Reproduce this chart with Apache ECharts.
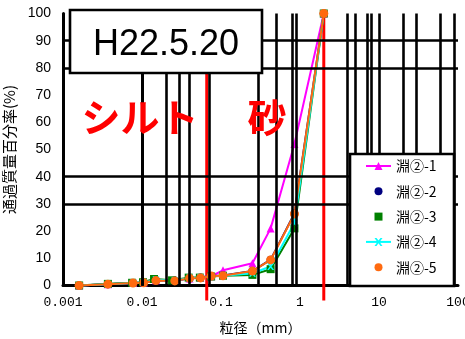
<!DOCTYPE html>
<html><head><meta charset="utf-8">
<script src="https://cdn.jsdelivr.net/npm/echarts@6/dist/echarts.min.js"></script>
<style>html,body{margin:0;padding:0;background:#fff}#c{width:465px;height:339px}</style>
</head><body><div id="c"></div>
<script>
// ---- data ----
const seriesNames = ['淵②-1', '淵②-2', '淵②-3', '淵②-4', '淵②-5'];
const sizes  = [0.0016, 0.0037, 0.0077, 0.0105, 0.015, 0.026, 0.040, 0.055, 0.075, 0.106, 0.25, 0.425, 0.85, 2];
const sizes3 = [0.0016, 0.0037, 0.0075, 0.0103, 0.0142, 0.024, 0.039, 0.054, 0.075, 0.106, 0.25, 0.425, 0.85, 2];
const pass1 = [0, 0.5, 0.9, 1.1, 1.9, 2.0, 2.6, 2.9, 3.4, 5.6, 8.2, 21, 52, 100];
const pass2 = [0, 0.5, 0.9, 1.0, 1.8, 1.8, 2.6, 2.9, 3.5, 3.7, 5.3, 9.5, 26.5, 100];
const pass3 = [0, 0.6, 1.0, 1.2, 2.4, 1.9, 2.9, 2.9, 3.3, 3.6, 3.9, 6.0, 21, 100];
const pass4 = [0, 0.5, 0.9, 1.1, 2.1, 1.8, 2.8, 2.9, 3.4, 3.6, 4.5, 7.0, 23, 100];
const pass5 = [0, 0.5, 0.9, 1.0, 1.8, 1.7, 2.7, 2.8, 3.5, 3.6, 5.3, 9.4, 26.3, 100];
const xTickLabels = ['0.001', '0.01', '0.1', '1', '10', '100'];
const gridX = [0.004, 0.005, 0.007, 0.008, 0.01, 0.02, 0.03, 0.04, 0.07, 0.3, 0.5, 0.8, 0.9, 4, 5, 7, 8, 10, 20, 30, 60, 90];
const gridY = [30, 40, 80, 90];
const boundaries = [0.066, 2];
const boundaryRange = [-5.5, 100];

// ---- styles ----
const colors = ['#FF00FF', '#000080', '#008000', '#00FFFF', '#FF6A10'];
const symbols = ['triangle', 'circle', 'rect',
  'path://M0,0L2.5,0L5,3.2L7.5,0L10,0L6.4,5L10,10L7.5,10L5,6.8L2.5,10L0,10L3.6,5Z', 'circle'];
const symbolSizes = [8, 8, 8, 7, 9];
const xs = [sizes, sizes, sizes3, sizes, sizes];
const ys = [pass1, pass2, pass3, pass4, pass5];

const chart = echarts.init(document.getElementById('c'), null, {renderer: 'canvas'});

const series = [];
series.push({
  type: 'line', name: '_grid', data: [], silent: true,
  markLine: {
    silent: true, symbol: ['none', 'none'], animation: false,
    label: {show: false},
    lineStyle: {color: '#000', width: 2.6, type: 'solid'},
    emphasis: {disabled: true},
    data: gridX.map(v => ({xAxis: v})).concat(gridY.map(v => ({yAxis: v})))
  }
});
boundaries.forEach(b => {
  series.push({
    type: 'line', name: '_b' + b, clip: false, silent: true, symbol: 'none',
    lineStyle: {color: '#FF0000', width: 3},
    data: boundaryRange.map(y => [b, y])
  });
});
seriesNames.forEach((n, i) => {
  series.push({
    type: 'line', name: n, clip: false,
    data: xs[i].map((x, k) => [x, ys[i][k]]),
    symbol: symbols[i], symbolSize: symbolSizes[i], showSymbol: true,
    itemStyle: {color: colors[i]},
    lineStyle: {color: colors[i], width: 2},
    emphasis: {disabled: true}
  });
});

chart.setOption({
  animation: false,
  backgroundColor: '#fff',
  grid: {left: 63, right: 7, top: 13.5, bottom: 53.5, outerBoundsMode: 'none', containLabel: false},
  xAxis: {
    type: 'log', logBase: 10, min: 0.001, max: 100,
    name: '粒径（mm）', nameLocation: 'middle', nameGap: 35,
    nameTextStyle: {fontFamily: 'Noto Sans CJK JP', fontSize: 14, color: '#000'},
    axisLine: {show: true, lineStyle: {color: '#000', width: 3}},
    axisTick: {show: false}, minorTick: {show: false},
    splitLine: {show: false}, minorSplitLine: {show: false},
    axisLabel: {
      color: '#000', fontFamily: 'Liberation Mono', fontSize: 13, margin: 11,
      formatter: (v, i) => xTickLabels[i] !== undefined ? xTickLabels[i] : ''
    }
  },
  yAxis: {
    type: 'value', min: 0, max: 100, interval: 10,
    name: '通過質量百分率(%)', nameLocation: 'middle', nameRotate: 90, nameGap: 46,
    nameTextStyle: {fontFamily: 'Noto Sans CJK JP', fontSize: 15, color: '#000'},
    axisLine: {show: true, lineStyle: {color: '#000', width: 3}},
    axisTick: {show: false},
    splitLine: {show: false},
    axisLabel: {color: '#000', fontFamily: 'Liberation Sans', fontSize: 14, margin: 12}
  },
  legend: {
    orient: 'vertical', left: 365, top: 158, padding: 0, itemGap: 9.3,
    itemWidth: 25, itemHeight: 10, z: 60,
    textStyle: {fontFamily: 'Noto Sans CJK JP', fontSize: 14, color: '#000', lineHeight: 16},
    data: seriesNames.map((n, i) => (i === 0 || i === 3) ? {name: n} : {name: n, lineStyle: {opacity: 0}})
  },
  graphic: [
    {type: 'rect', z: 50, shape: {x: 350, y: 154, width: 104, height: 132},
     style: {fill: '#fff', stroke: '#000', lineWidth: 2.6}},
    {type: 'rect', z: 50, shape: {x: 70, y: 10, width: 192, height: 63},
     style: {fill: '#fff', stroke: '#000', lineWidth: 2.6}},
    {type: 'text', z: 51, x: 166, y: 45,
     style: {text: 'H22.5.20', font: '36px "Liberation Sans"', fill: '#000', textAlign: 'center', textVerticalAlign: 'middle'}},
    {type: 'text', z: 51, x: 140, y: 117,
     style: {text: 'シルト', font: 'bold 39px "Noto Sans CJK JP"', fill: '#FF0000', textAlign: 'center', textVerticalAlign: 'middle'}},
    {type: 'text', z: 51, x: 267, y: 117,
     style: {text: '砂', font: 'bold 39px "Noto Sans CJK JP"', fill: '#FF0000', textAlign: 'center', textVerticalAlign: 'middle'}}
  ],
  series: series
});
</script>
</body></html>
